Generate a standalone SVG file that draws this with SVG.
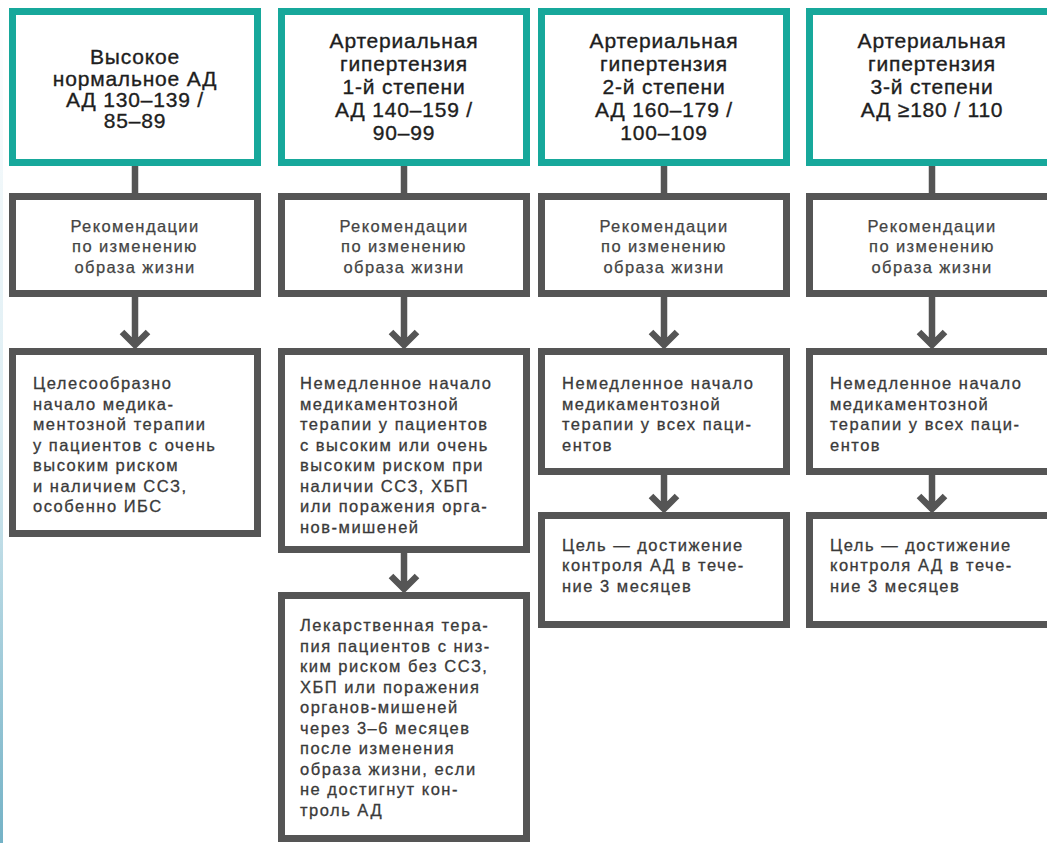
<svg xmlns="http://www.w3.org/2000/svg" width="1047" height="843" viewBox="0 0 1047 843">
<defs>
<linearGradient id="edge" x1="0" y1="0" x2="0" y2="1">
<stop offset="0" stop-color="#ffffff"/>
<stop offset="0.5" stop-color="#dcedf3"/>
<stop offset="1" stop-color="#74b2c6"/>
</linearGradient>
<style>
.top{fill:#ffffff;stroke:#17a89b;stroke-width:7}
.box{fill:#ffffff;stroke:#555555;stroke-width:7}
.conn{fill:none;stroke:#555555;stroke-width:6.5;stroke-linejoin:miter}
.t1{font-family:"Liberation Sans",Arial,sans-serif;font-size:21px;fill:#1e1e1e;stroke:#1e1e1e;stroke-width:0.35px;text-anchor:middle;letter-spacing:0.8px}
.t2{font-family:"Liberation Sans",Arial,sans-serif;font-size:16.5px;fill:#444444;stroke:#444444;stroke-width:0.25px;text-anchor:middle;letter-spacing:1.4px}
.t3{font-family:"Liberation Sans",Arial,sans-serif;font-size:16.5px;fill:#3a3a3a;stroke:#3a3a3a;stroke-width:0.3px;letter-spacing:1.5px}
</style>
</defs>
<rect x="0" y="0" width="1047" height="843" fill="#ffffff"/>
<rect x="0" y="0" width="3" height="843" fill="url(#edge)"/>

<g id="connectors">
<path class="conn" d="M135 166V193M135 297V345M122 332L135 345L148 332"/>
<path class="conn" d="M404 166V193M404 297V345M391 332L404 345L417 332M404 553V589M391 576L404 589L417 576"/>
<path class="conn" d="M664 166V193M664 297V345M651 332L664 345L677 332M664 475V509M651 496L664 509L677 496"/>
<path class="conn" d="M932 166V193M932 297V345M919 332L932 345L945 332M932 475V509M919 496L932 509L945 496"/>
</g>

<g id="c1-top">
<rect class="top" x="12.5" y="11.5" width="245" height="151"/>
<text class="t1"><tspan x="135" y="64">Высокое</tspan><tspan x="135" y="86">нормальное АД</tspan><tspan x="135" y="107">АД 130–139 /</tspan><tspan x="135" y="128">85–89</tspan></text>
</g>
<g id="c2-top">
<rect class="top" x="281.5" y="11.5" width="245" height="151"/>
<text class="t1"><tspan x="404" y="48">Артериальная</tspan><tspan x="404" y="71">гипертензия</tspan><tspan x="404" y="94">1-й степени</tspan><tspan x="404" y="117">АД 140–159 /</tspan><tspan x="404" y="140">90–99</tspan></text>
</g>
<g id="c3-top">
<rect class="top" x="541.5" y="11.5" width="245" height="151"/>
<text class="t1"><tspan x="664" y="48">Артериальная</tspan><tspan x="664" y="71">гипертензия</tspan><tspan x="664" y="94">2-й степени</tspan><tspan x="664" y="117">АД 160–179 /</tspan><tspan x="664" y="140">100–109</tspan></text>
</g>
<g id="c4-top">
<rect class="top" x="809.5" y="11.5" width="245" height="151"/>
<text class="t1"><tspan x="932" y="48">Артериальная</tspan><tspan x="932" y="71">гипертензия</tspan><tspan x="932" y="94">3-й степени</tspan><tspan x="932" y="117">АД ≥180 / 110</tspan></text>
</g>

<g id="c1-life">
<rect class="box" x="12.5" y="196.5" width="245" height="97"/>
<text class="t2"><tspan x="135" y="232">Рекомендации</tspan><tspan x="135" y="252">по изменению</tspan><tspan x="135" y="273">образа жизни</tspan></text>
</g>
<g id="c2-life">
<rect class="box" x="281.5" y="196.5" width="245" height="97"/>
<text class="t2"><tspan x="404" y="232">Рекомендации</tspan><tspan x="404" y="252">по изменению</tspan><tspan x="404" y="273">образа жизни</tspan></text>
</g>
<g id="c3-life">
<rect class="box" x="541.5" y="196.5" width="245" height="97"/>
<text class="t2"><tspan x="664" y="232">Рекомендации</tspan><tspan x="664" y="252">по изменению</tspan><tspan x="664" y="273">образа жизни</tspan></text>
</g>
<g id="c4-life">
<rect class="box" x="809.5" y="196.5" width="245" height="97"/>
<text class="t2"><tspan x="932" y="232">Рекомендации</tspan><tspan x="932" y="252">по изменению</tspan><tspan x="932" y="273">образа жизни</tspan></text>
</g>

<g id="c1-drug">
<rect class="box" x="12.5" y="351.5" width="245" height="182"/>
<text class="t3"><tspan x="33" y="389">Целесообразно</tspan><tspan x="33" y="410">начало медика-</tspan><tspan x="33" y="430">ментозной терапии</tspan><tspan x="33" y="451">у пациентов с очень</tspan><tspan x="33" y="471">высоким риском</tspan><tspan x="33" y="492">и наличием ССЗ,</tspan><tspan x="33" y="512">особенно ИБС</tspan></text>
</g>
<g id="c2-drug">
<rect class="box" x="281.5" y="351.5" width="245" height="198"/>
<text class="t3"><tspan x="300" y="389">Немедленное начало</tspan><tspan x="300" y="410">медикаментозной</tspan><tspan x="300" y="430">терапии у пациентов</tspan><tspan x="300" y="451">с высоким или очень</tspan><tspan x="300" y="471">высоким риском при</tspan><tspan x="300" y="492">наличии ССЗ, ХБП</tspan><tspan x="300" y="512">или поражения орга-</tspan><tspan x="300" y="533">нов-мишеней</tspan></text>
</g>
<g id="c2-late">
<rect class="box" x="281.5" y="595.5" width="245" height="243"/>
<text class="t3"><tspan x="300" y="631">Лекарственная тера-</tspan><tspan x="300" y="652">пия пациентов с низ-</tspan><tspan x="300" y="672">ким риском без ССЗ,</tspan><tspan x="300" y="693">ХБП или поражения</tspan><tspan x="300" y="713">органов-мишеней</tspan><tspan x="300" y="734">через 3–6 месяцев</tspan><tspan x="300" y="754">после изменения</tspan><tspan x="300" y="775">образа жизни, если</tspan><tspan x="300" y="795">не достигнут кон-</tspan><tspan x="300" y="816">троль АД</tspan></text>
</g>
<g id="c3-drug">
<rect class="box" x="541.5" y="351.5" width="245" height="120"/>
<text class="t3"><tspan x="562" y="389">Немедленное начало</tspan><tspan x="562" y="410">медикаментозной</tspan><tspan x="562" y="430">терапии у всех паци-</tspan><tspan x="562" y="451">ентов</tspan></text>
</g>
<g id="c3-goal">
<rect class="box" x="541.5" y="515.5" width="245" height="109"/>
<text class="t3"><tspan x="562" y="551">Цель — достижение</tspan><tspan x="562" y="571">контроля АД в тече-</tspan><tspan x="562" y="592">ние 3 месяцев</tspan></text>
</g>
<g id="c4-drug">
<rect class="box" x="809.5" y="351.5" width="245" height="120"/>
<text class="t3"><tspan x="830" y="389">Немедленное начало</tspan><tspan x="830" y="410">медикаментозной</tspan><tspan x="830" y="430">терапии у всех паци-</tspan><tspan x="830" y="451">ентов</tspan></text>
</g>
<g id="c4-goal">
<rect class="box" x="809.5" y="515.5" width="245" height="109"/>
<text class="t3"><tspan x="830" y="551">Цель — достижение</tspan><tspan x="830" y="571">контроля АД в тече-</tspan><tspan x="830" y="592">ние 3 месяцев</tspan></text>
</g>
</svg>
